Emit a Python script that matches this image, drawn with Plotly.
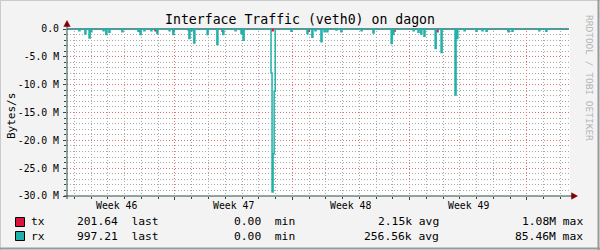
import pandas as pd
import plotly.graph_objects as go

# ---------------- data ----------------
title = "Interface Traffic (veth0) on dagon"
y_title = "Bytes/s"
view_start = "2011-11-14 13:24"
view_end = "2011-12-14 13:36"
data_start = "2011-11-14 13:30"
data_end = "2011-12-14 12:00"

week_starts = ["2011-11-14", "2011-11-21", "2011-11-28", "2011-12-05", "2011-12-12"]
week_labels = ["Week 46", "Week 47", "Week 48", "Week 49", "Week 50"]

y_ticks = [0, -5, -10, -15, -20, -25, -30]
y_tick_labels = ["0.0", "-5.0 M", "-10.0 M", "-15.0 M", "-20.0 M", "-25.0 M", "-30.0 M"]

# values in MBytes/s (drawn negative as in the source graph)
rx_times = [
    "2011-11-15 06:30", "2011-11-15 15:00", "2011-11-15 21:00", "2011-11-15 23:30",
    "2011-11-16 17:00", "2011-11-16 21:00", "2011-11-17 01:30", "2011-11-17 20:00",
    "2011-11-18 19:00", "2011-11-18 22:00", "2011-11-19 03:30", "2011-11-19 13:30",
    "2011-11-19 22:00", "2011-11-20 15:30", "2011-11-20 21:00", "2011-11-21 20:00",
    "2011-11-21 23:00", "2011-11-22 03:00", "2011-11-22 22:00", "2011-11-23 12:00",
    "2011-11-23 20:30", "2011-11-24 14:00", "2011-11-24 22:30", "2011-11-25 01:30",
    "2011-11-26 17:30", "2011-11-26 19:00", "2011-11-26 20:30", "2011-11-26 22:00",
    "2011-11-27 22:00", "2011-11-28 21:00", "2011-11-29 04:00", "2011-11-29 08:30",
    "2011-11-29 17:00", "2011-11-29 21:30", "2011-11-30 01:30", "2011-11-30 14:30",
    "2011-11-30 21:30", "2011-12-02 02:30", "2011-12-02 19:30", "2011-12-03 21:30",
    "2011-12-04 00:00", "2011-12-05 05:00", "2011-12-05 12:00", "2011-12-05 16:00",
    "2011-12-05 20:30", "2011-12-06 12:30", "2011-12-06 21:00", "2011-12-07 17:00",
    "2011-12-07 19:30", "2011-12-08 06:00", "2011-12-08 23:00", "2011-12-09 07:30",
    "2011-12-09 13:30", "2011-12-10 21:00", "2011-12-11 02:30", "2011-12-12 17:00",
    "2011-12-13 03:00",
]
rx_values = [
    -0.3, -0.9, -1.6, -0.5,
    -0.3, -1.0, -0.6, -0.5,
    -0.4, -1.0, -0.3, -0.3,
    -0.8, -0.3, -1.0, -1.7,
    -0.3, -2.5, -1.0, -2.8,
    -1.0, -0.3, -0.8, -2.0,
    -7.9, -29.3, -22.4, -11.2,
    -0.4, -0.8, -1.5, -0.3,
    -2.3, -0.5, -0.5, -0.2,
    -0.5, -0.3, -0.7, -2.6,
    -1.0, -0.3, -0.6, -0.9,
    -1.3, -3.5, -4.2, -11.85,
    -1.7, -0.3, -0.4, -0.3,
    -0.4, -0.5, -0.4, -0.3,
    -0.4,
]
tx_times = [
    "2011-11-15 22:30", "2011-11-19 19:30", "2011-11-20 21:00", "2011-11-21 19:00",
    "2011-11-23 19:30", "2011-11-26 19:00", "2011-11-28 22:30", "2011-12-04 01:30",
    "2011-12-06 15:00", "2011-12-10 21:00",
]
tx_values = [-0.3, -0.3, -0.3, -0.2, -0.4, -0.3, -0.4, -0.4, -0.5, -0.3]

legend_rows = [
    ("tx", "#DC143C", "201.64  last", "0.00  min", "2.15k avg", "1.08M max"),
    ("rx", "#20B2AA", "997.21  last", "0.00  min", "256.56k avg", "85.46M max"),
]

# ---------------- layout constants ----------------
W, H = 600, 250
L, R, T, B = 67, 570, 28, 196
MONO = "DejaVu Sans Mono"
AXIS = "#2C4D43"
ARROW = "#7F0000"


def px(x):
    return (x - L) / (R - L)


def py(y):
    return (B - y) / (B - T)


def step_series(times, vals, dur=pd.Timedelta(hours=1.5)):
    ts = list(pd.to_datetime(times))
    xs, ys = [pd.Timestamp(data_start)], [0.0]
    for i, (t, v) in enumerate(zip(ts, vals)):
        xs.append(t)
        ys.append(v)
        end = t + dur
        if i + 1 == len(ts) or ts[i + 1] > end:
            xs.append(end)
            ys.append(0.0)
    xs.append(pd.Timestamp(data_end))
    ys.append(0.0)
    return xs, ys


fig = go.Figure()
tx_x, tx_y = step_series(tx_times, tx_values)
rx_x, rx_y = step_series(rx_times, rx_values)
fig.add_trace(go.Scatter(x=tx_x, y=tx_y, mode="lines", line=dict(color="#DC143C", width=1.5, shape="hv"),
                         showlegend=False, hoverinfo="skip"))
fig.add_trace(go.Scatter(x=rx_x, y=rx_y, mode="lines", line=dict(color="#20B2AA", width=1.5, shape="hv"),
                         showlegend=False, hoverinfo="skip"))

MGRID = "#e07070"
GRID = "#a8a8a8"

fig.update_xaxes(
    type="date", range=[view_start, view_end],
    tickmode="array", tickvals=week_starts, showticklabels=False,
    showgrid=True, gridcolor=MGRID, griddash="1px,2px", gridwidth=1,
    ticks="outside", ticklen=3, tickcolor=AXIS,
    minor=dict(dtick=86400000, tick0="2011-11-14", showgrid=True, gridcolor=GRID,
               griddash="1px,2px", ticks="outside", ticklen=2, tickcolor=AXIS),
    showline=False, zeroline=False, fixedrange=True,
)
fig.update_yaxes(
    range=[-30, 30 / 167], tickmode="array", tickvals=y_ticks, ticktext=y_tick_labels,
    tickfont=dict(family=MONO, size=9.8, color="#000"),
    showgrid=True, gridcolor=MGRID, griddash="1px,2px", gridwidth=1,
    ticks="outside", ticklen=3, tickcolor=AXIS, ticklabelstandoff=2,
    minor=dict(dtick=1, tick0=0, showgrid=True, gridcolor=GRID, griddash="1px,2px",
               ticks="outside", ticklen=2, tickcolor=AXIS),
    showline=False, zeroline=False, fixedrange=True,
)

shapes = []
# frame (3d border)
shapes += [
    dict(type="line", xref="paper", yref="paper", x0=px(0.5), x1=px(W), y0=py(0.5), y1=py(0.5), line=dict(color="#CBCBCB", width=1)),
    dict(type="line", xref="paper", yref="paper", x0=px(0.5), x1=px(0.5), y0=py(0), y1=py(H), line=dict(color="#CBCBCB", width=1)),
    dict(type="line", xref="paper", yref="paper", x0=px(0), x1=px(W), y0=py(H - 1.5), y1=py(H - 1.5), line=dict(color="#999999", width=2)),
    dict(type="line", xref="paper", yref="paper", x0=px(W - 1.5), x1=px(W - 1.5), y0=py(0), y1=py(H), line=dict(color="#999999", width=2)),
]
# axes
shapes += [
    dict(type="line", xref="paper", yref="paper", x0=0, x1=0, y0=py(B + 3), y1=py(25), line=dict(color=AXIS, width=1)),
    dict(type="line", xref="paper", yref="paper", x0=px(L - 3), x1=px(572), y0=0, y1=0, line=dict(color=AXIS, width=1)),
    dict(type="path", xref="paper", yref="paper", fillcolor=ARROW, line=dict(color=ARROW, width=0.5),
         path=f"M {px(L)},{py(20.5)} L {px(L - 3.2)},{py(26.5)} L {px(L + 3.2)},{py(26.5)} Z"),
    dict(type="path", xref="paper", yref="paper", fillcolor=ARROW, line=dict(color=ARROW, width=0.5),
         path=f"M {px(577.5)},{py(B)} L {px(571.5)},{py(B - 3.2)} L {px(571.5)},{py(B + 3.2)} Z"),
]

annotations = []
# week labels centered in each week
for ws, lab in zip(week_starts, week_labels):
    mid = pd.Timestamp(ws) + pd.Timedelta(hours=84)
    annotations.append(dict(x=mid, xref="x", y=py(205), yref="paper", text=lab, showarrow=False,
                            xanchor="center", yanchor="middle", font=dict(family=MONO, size=9.8, color="#000"),
                            borderpad=0))
# y title
annotations.append(dict(x=px(11), xref="paper", y=py(116), yref="paper", text=y_title, textangle=-90,
                        showarrow=False, xanchor="center", yanchor="middle",
                        font=dict(family=MONO, size=11, color="#000"), borderpad=0))
# watermark
annotations.append(dict(x=px(590), xref="paper", y=py(78), yref="paper", text="RRDTOOL / TOBI OETIKER",
                        textangle=90, showarrow=False, xanchor="center", yanchor="middle",
                        font=dict(family=MONO, size=9.5, color="#b4b4b4"), borderpad=0))
# legend
row_y = [222, 236]
for (name, col, last, mn, avg, mx), yy in zip(legend_rows, row_y):
    shapes.append(dict(type="rect", xref="paper", yref="paper", x0=px(15.5), x1=px(24.5),
                       y0=py(yy - 4.5), y1=py(yy + 4.5), fillcolor=col, line=dict(color="#000", width=1)))
    annotations.append(dict(x=px(30), xref="paper", y=py(yy), yref="paper", text=name, showarrow=False,
                            xanchor="left", yanchor="middle", font=dict(family=MONO, size=11.3, color="#000"),
                            borderpad=0))
    for txt, xr in zip([last, mn, avg, mx], [159.5, 296, 439.5, 584]):
        annotations.append(dict(x=px(xr), xref="paper", y=py(yy), yref="paper",
                                text=txt.replace(" ", "\u00a0"), showarrow=False,
                                xanchor="right", yanchor="middle",
                                font=dict(family=MONO, size=11.3, color="#000"), borderpad=0))

fig.update_layout(
    width=W, height=H,
    margin=dict(l=L, r=W - R, t=T, b=H - B, pad=0),
    paper_bgcolor="#f3f3f3", plot_bgcolor="#ffffff",
    title=dict(text=title, x=0.5, xref="container", xanchor="center", y=1 - 19 / H, yref="container",
               yanchor="middle", font=dict(family=MONO, size=13.2, color="#000")),
    shapes=shapes, annotations=annotations, showlegend=False,
)

fig.write_html("out.html", config={"displayModeBar": False})
